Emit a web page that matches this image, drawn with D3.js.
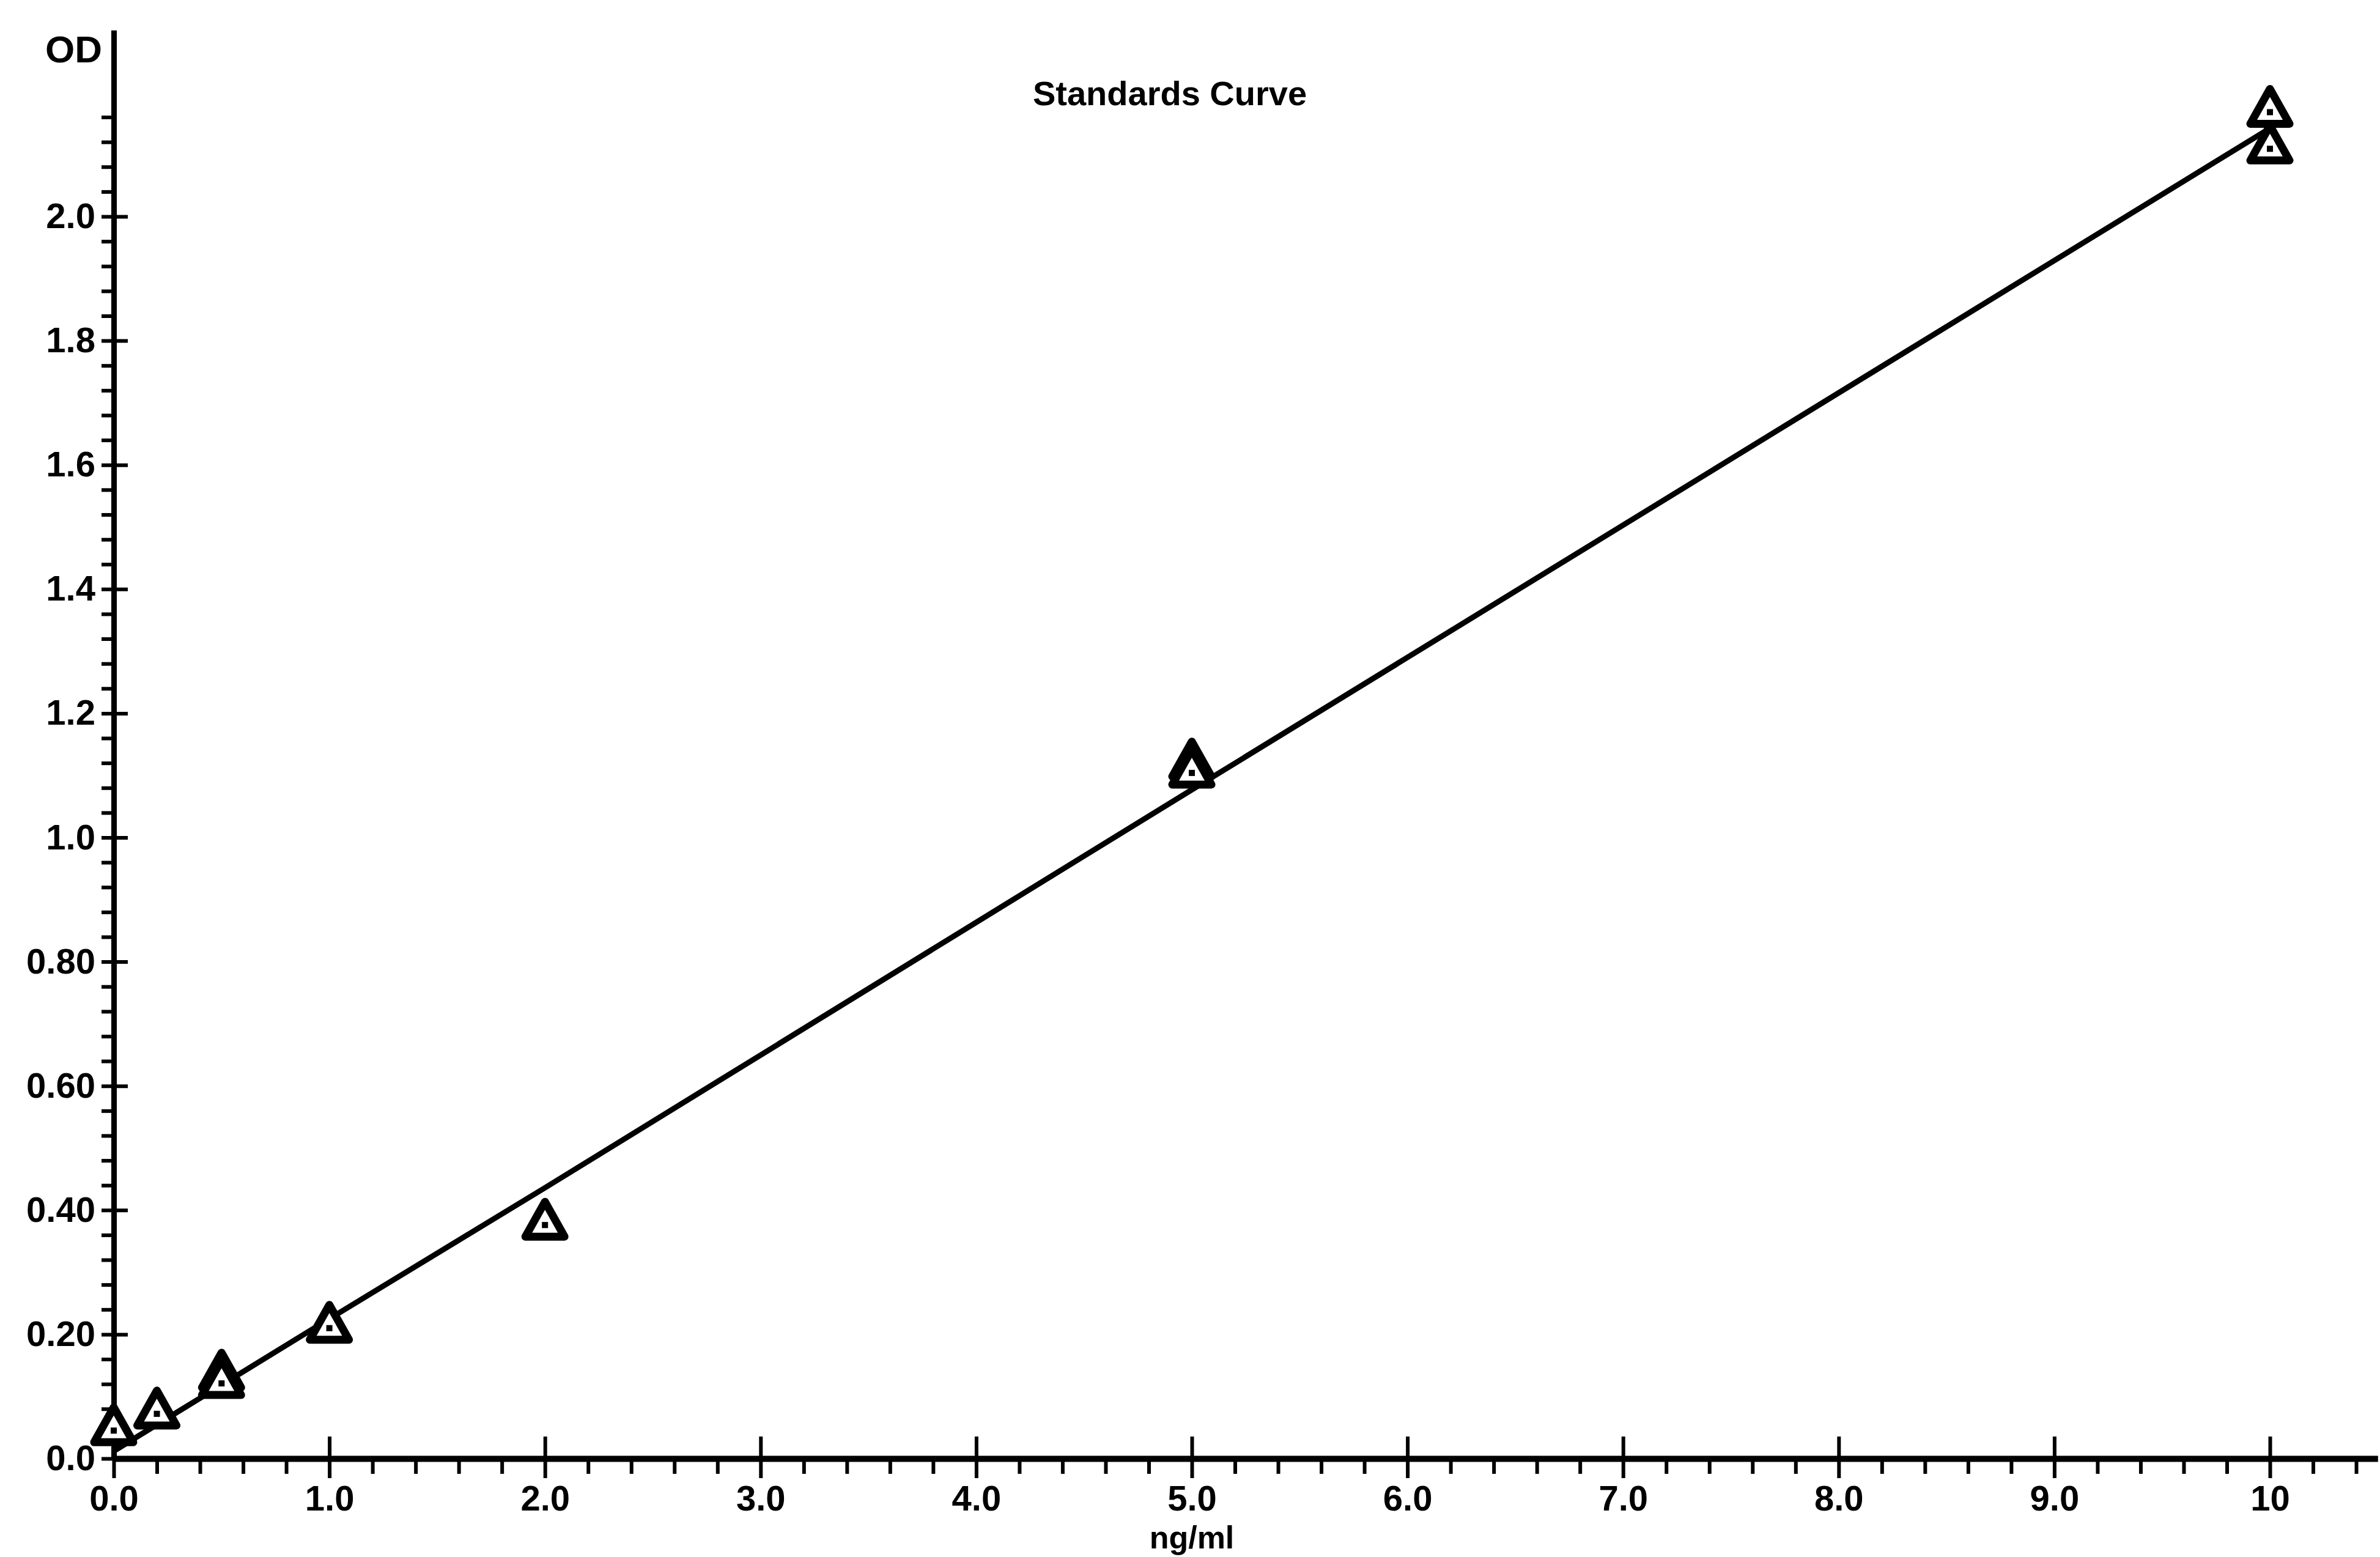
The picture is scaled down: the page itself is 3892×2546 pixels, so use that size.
<!DOCTYPE html>
<html>
<head>
<meta charset="utf-8">
<script src="https://cdn.jsdelivr.net/npm/d3@7"></script>
<style>
  html, body { margin: 0; padding: 0; background: #fff; }
  svg { display: block; }
  text { font-family: "Liberation Sans", Arial, sans-serif; font-weight: bold; fill: #000; }
</style>
</head>
<body>
<svg id="chart" width="3892" height="2546"></svg>
<script>
// ---- data ----
const concentrations = [0.0, 0.2, 0.5, 0.5, 1.0, 2.0, 5.0, 5.0, 10.0, 10.0];   // ng/ml
const odValues       = [0.045, 0.072, 0.133, 0.121, 0.210, 0.376, 1.117, 1.104, 2.168, 2.109];

const fitX = [0.0, 1.0, 2.0, 5.0, 10.0];
const fitY = [0.012, 0.225, 0.436, 1.077, 2.142];

const xTicks = [0, 1, 2, 3, 4, 5, 6, 7, 8, 9, 10];
const xTickLabels = ["0.0", "1.0", "2.0", "3.0", "4.0", "5.0", "6.0", "7.0", "8.0", "9.0", "10"];
const yTicks = [0, 0.2, 0.4, 0.6, 0.8, 1.0, 1.2, 1.4, 1.6, 1.8, 2.0];
const yTickLabels = ["0.0", "0.20", "0.40", "0.60", "0.80", "1.0", "1.2", "1.4", "1.6", "1.8", "2.0"];

const titleText = "Standards Curve";
const xAxisTitle = "ng/ml";
const yAxisTitle = "OD";

// ---- layout ----
const svg = d3.select("#chart");
const x = d3.scaleLinear().domain([0, 10.5]).range([186, 186 + 10.5 * 352.6]);
const y = d3.scaleLinear().domain([0, 2.3]).range([2385, 2385 - 2.3 * 1015.5]);

const xMinor = d3.range(0, 10.41, 0.2).filter(v => Math.abs(v - Math.round(v)) > 1e-6);
const yMinor = d3.range(0, 2.201, 0.04).filter(v => Math.abs(v * 5 - Math.round(v * 5)) > 1e-6);

// minor ticks
svg.append("g")
  .attr("transform", `translate(0,${y(0)})`)
  .call(d3.axisBottom(x).tickValues(xMinor).tickSize(25).tickFormat(""))
  .call(g => g.select(".domain").remove())
  .call(g => g.selectAll("line").attr("stroke", "#000").attr("stroke-width", 6));

svg.append("g")
  .attr("transform", `translate(${x(0)},0)`)
  .call(d3.axisLeft(y).tickValues(yMinor).tickSize(20).tickFormat(""))
  .call(g => g.select(".domain").remove())
  .call(g => g.selectAll("line").attr("stroke", "#000").attr("stroke-width", 6));

// major x axis
svg.append("g")
  .attr("transform", `translate(0,${y(0)})`)
  .call(d3.axisBottom(x).tickValues(xTicks).tickSizeInner(32).tickSizeOuter(0).tickPadding(12)
        .tickFormat((d, i) => xTickLabels[i]))
  .call(g => g.select(".domain").attr("stroke", "#000").attr("stroke-width", 10))
  .call(g => g.selectAll(".tick line").attr("stroke", "#000").attr("stroke-width", 6).attr("y1", -36))
  .call(g => g.selectAll(".tick text").attr("font-size", 58).attr("font-family", null));

// major y axis
svg.append("g")
  .attr("transform", `translate(${x(0)},0)`)
  .call(d3.axisLeft(y).tickValues(yTicks).tickSizeInner(20).tickSizeOuter(0).tickPadding(10)
        .tickFormat((d, i) => yTickLabels[i]))
  .call(g => g.select(".domain").attr("stroke", "#000").attr("stroke-width", 9))
  .call(g => g.selectAll(".tick line").attr("stroke", "#000").attr("stroke-width", 6).attr("x1", 23))
  .call(g => g.selectAll(".tick text").attr("font-size", 58).attr("font-family", null));

// fitted line
svg.append("path")
  .datum(fitX.map((v, i) => [v, fitY[i]]))
  .attr("fill", "none")
  .attr("stroke", "#000")
  .attr("stroke-width", 9)
  .attr("d", d3.line().x(d => x(d[0])).y(d => y(d[1])));

// triangle markers with centre dot
const triW = 64, triH = 57;
function triangle() {
  const p = d3.path();
  p.moveTo(0, -2 * triH / 3);
  p.lineTo(triW / 2, triH / 3);
  p.lineTo(-triW / 2, triH / 3);
  p.closePath();
  return p.toString();
}
const pts = svg.append("g").selectAll("g")
  .data(concentrations.map((c, i) => ({ c, od: odValues[i] })))
  .join("g")
  .attr("transform", d => `translate(${x(d.c)},${y(d.od)})`);
pts.append("path")
  .attr("d", triangle())
  .attr("fill", "#fff")
  .attr("stroke", "#000")
  .attr("stroke-width", 13)
  .attr("stroke-linejoin", "round");
pts.append("rect")
  .attr("x", -5).attr("y", -5).attr("width", 10).attr("height", 10)
  .attr("fill", "#000");

// titles
svg.append("text")
  .attr("x", x(5) - 36).attr("y", 172)
  .attr("text-anchor", "middle")
  .attr("font-size", 56)
  .text(titleText);

svg.append("text")
  .attr("x", x(5)).attr("y", 2532)
  .attr("text-anchor", "middle")
  .attr("font-size", 52)
  .text(xAxisTitle);

svg.append("text")
  .attr("x", 167).attr("y", 102)
  .attr("text-anchor", "end")
  .attr("font-size", 62)
  .text(yAxisTitle);
</script>
</body>
</html>
